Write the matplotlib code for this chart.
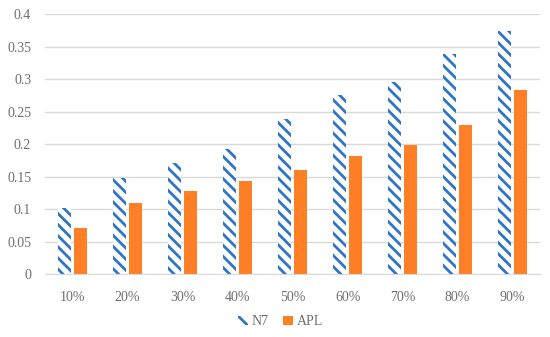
import matplotlib
matplotlib.use("Agg")
import matplotlib.pyplot as plt
import numpy as np

categories = ["10%", "20%", "30%", "40%", "50%", "60%", "70%", "80%", "90%"]
n7 = [0.101, 0.147, 0.171, 0.193, 0.239, 0.276, 0.296, 0.338, 0.374]
apl = [0.071, 0.109, 0.127, 0.143, 0.160, 0.181, 0.199, 0.229, 0.284]

plt.rcParams["font.family"] = ["Liberation Serif", "DejaVu Serif"]
plt.rcParams["hatch.linewidth"] = 2.0

fig = plt.figure(figsize=(5.5, 3.37), dpi=100)
ax = fig.add_axes([0.082, 0.187, 0.9, 0.771])

x = np.arange(len(categories))
w = 0.236
gap = 0.055
ax.bar(x - (w + gap) / 2, n7, w, color="white", edgecolor="#2E75C8",
       hatch="\\\\\\", linewidth=0, label="N7")
ax.bar(x + (w + gap) / 2, apl, w, color="#FF7F27", linewidth=0, label="APL")

ax.set_xlim(-0.5, len(categories) - 0.5)
ax.set_ylim(0, 0.4)
ax.set_yticks(np.arange(0, 0.401, 0.05))
ax.set_yticklabels(["0", "0.05", "0.1", "0.15", "0.2", "0.25", "0.3", "0.35", "0.4"])
ax.set_xticks(x)
ax.set_xticklabels(categories)
ax.yaxis.grid(True, color="#D9D9D9", linewidth=1)
ax.set_axisbelow(True)
for s in ["top", "right", "left"]:
    ax.spines[s].set_visible(False)
ax.spines["bottom"].set_color("#D9D9D9")
ax.tick_params(length=0, labelsize=10, labelcolor="#6E6E6E")
ax.tick_params(axis="x", pad=12)
ax.tick_params(axis="y", pad=10)

fig.legend(loc="center", bbox_to_anchor=(0.51, 0.045), ncol=2, frameon=False,
           fontsize=10, labelcolor="#6E6E6E", handlelength=0.7, handleheight=0.7,
           handletextpad=0.3, columnspacing=1.0)

fig.savefig("out.png", dpi=100)
